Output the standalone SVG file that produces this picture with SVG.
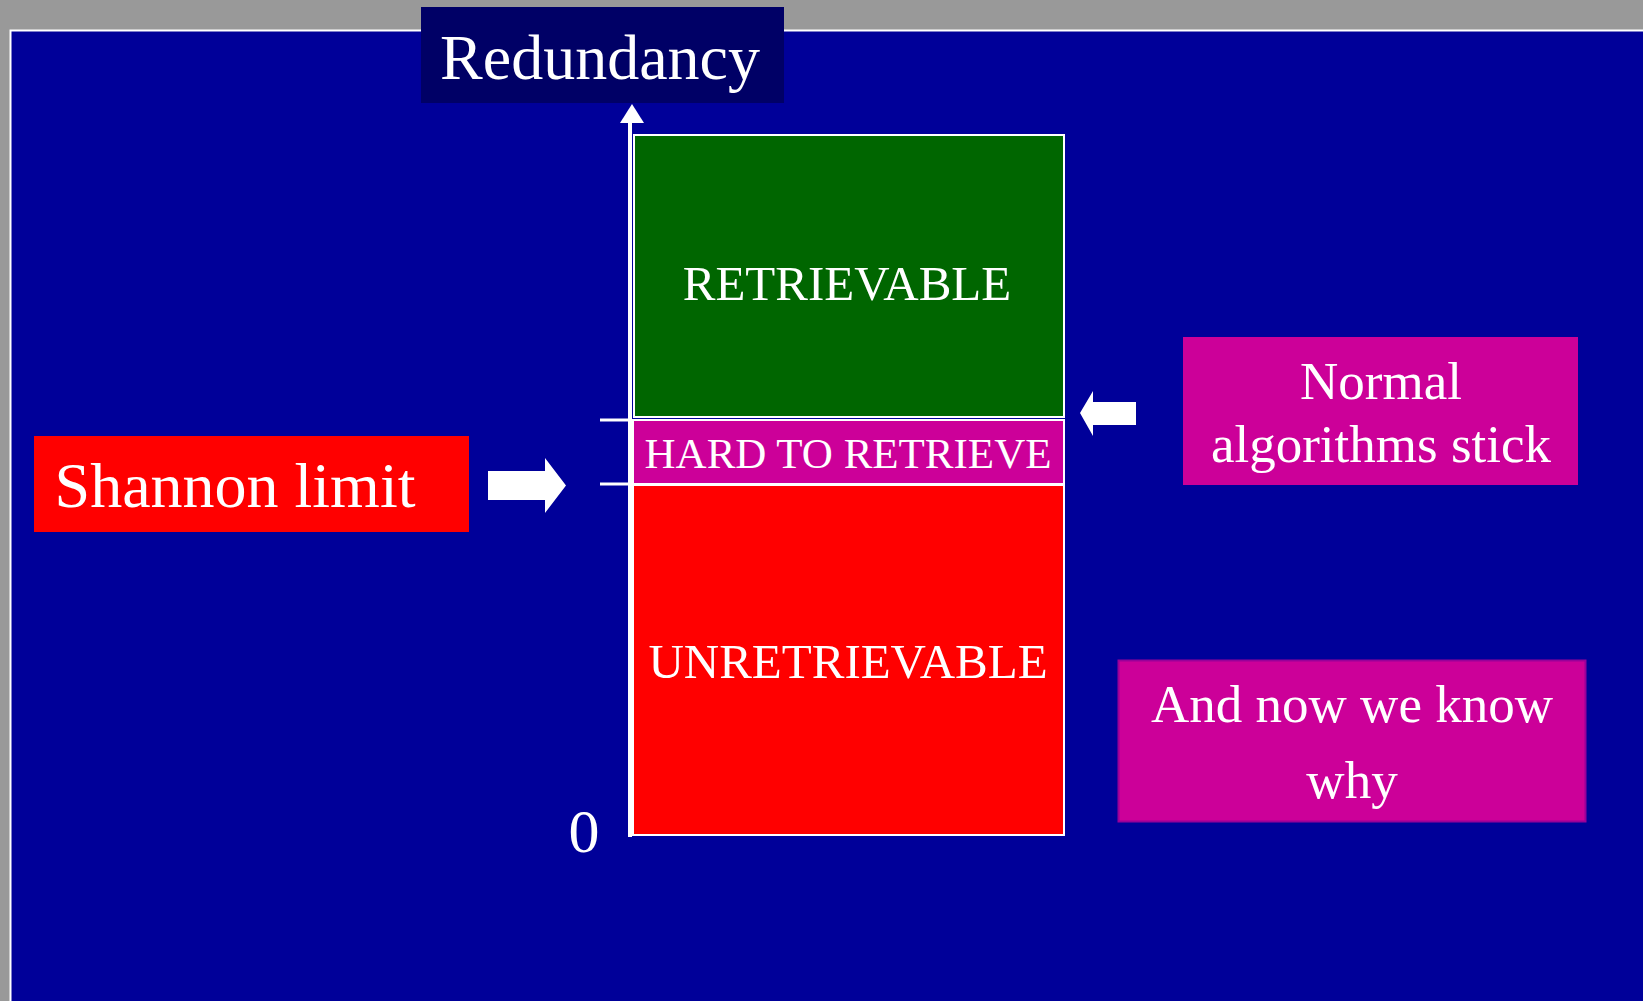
<svg xmlns="http://www.w3.org/2000/svg" width="1643" height="1001" viewBox="0 0 1643 1001">
  <defs>
    <style>
      .t { font-family: "Liberation Serif", "Times New Roman", serif; fill: #ffffff; text-anchor: middle; }
      .big { font-size: 64px; }
      .mid { font-size: 53px; }
      .band { font-size: 49px; }
      .box { stroke: #ffffff; stroke-width: 2; }
      .arrow { fill: #ffffff; }
    </style>
  </defs>

  <!-- page and slide background -->
  <rect x="0" y="0" width="1643" height="1001" fill="#999999"/>
  <rect x="10.5" y="30.5" width="1640" height="980" fill="#000099" stroke="#ffffff" stroke-width="2"/>

  <!-- axis title -->
  <g id="redundancy">
    <rect x="421" y="7" width="363" height="96" fill="#000066"/>
    <text class="t big" x="600" y="79">Redundancy</text>
  </g>

  <!-- stacked redundancy bands -->
  <g id="retrievable">
    <rect class="box" x="634" y="135" width="430" height="282" fill="#006600"/>
    <text class="t band" x="847" y="300">RETRIEVABLE</text>
  </g>
  <g id="hard-to-retrieve">
    <rect class="box" x="633" y="420" width="431" height="64" fill="#CC0099"/>
    <text class="t" style="font-size:43px" x="848" y="468">HARD TO RETRIEVE</text>
  </g>
  <g id="unretrievable">
    <rect class="box" x="633" y="485" width="431" height="350" fill="#FF0000"/>
    <text class="t band" x="848" y="678">UNRETRIEVABLE</text>
  </g>

  <!-- side labels -->
  <g id="shannon-limit">
    <rect x="34" y="436" width="435" height="96" fill="#FF0000"/>
    <text class="t big" x="235" y="507">Shannon limit</text>
  </g>
  <g id="normal-algorithms">
    <rect x="1183" y="337" width="395" height="148" fill="#CC0099"/>
    <text class="t mid" x="1381" y="399">Normal</text>
    <text class="t mid" x="1381" y="462">algorithms stick</text>
  </g>
  <g id="now-we-know">
    <rect x="1118.5" y="660.5" width="467" height="161" fill="#CC0099" stroke="#990099" stroke-width="2"/>
    <text class="t mid" x="1352" y="722">And now we know</text>
    <text class="t mid" x="1352" y="798">why</text>
  </g>
  <g id="zero">
    <text class="t" style="font-size:62px" x="584" y="852">0</text>
  </g>

  <!-- axis, ticks and pointer arrows -->
  <g id="connectors">
    <line x1="630" y1="120" x2="630" y2="837" stroke="#ffffff" stroke-width="4"/>
    <polygon class="arrow" points="632,104 644,123 620,123"/>
    <line x1="600" y1="420" x2="630" y2="420" stroke="#ffffff" stroke-width="3"/>
    <line x1="600" y1="484" x2="630" y2="484" stroke="#ffffff" stroke-width="3"/>
    <polygon class="arrow" points="488,471 545,471 545,458 566,485.5 545,513 545,500 488,500"/>
    <polygon class="arrow" points="1080,413 1093,391 1093,402 1136,402 1136,425 1093,425 1093,436"/>
  </g>
</svg>
